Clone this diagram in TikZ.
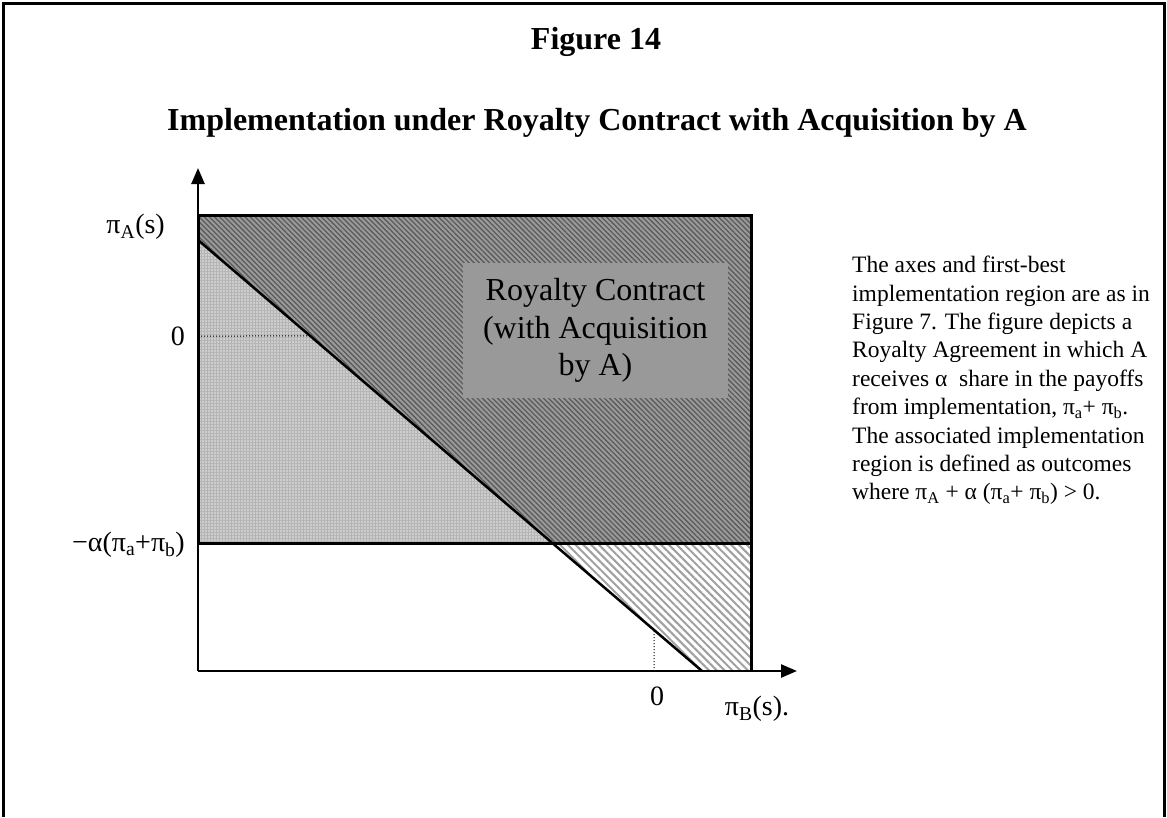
\documentclass[tikz,border=0pt]{standalone}
\usepackage{fontspec}
\setmainfont{Liberation Serif}
\usetikzlibrary{arrows.meta,patterns.meta,calc}
\definecolor{darkfill}{HTML}{9A9A9A}
\definecolor{darkline}{HTML}{5A5A5A}
\definecolor{lightfill}{HTML}{CDCDCD}
\definecolor{lightgrid}{HTML}{B4B4B4}
\definecolor{hatchline}{HTML}{A0A0A0}
\definecolor{boxgray}{HTML}{999999}
\newcommand{\sbs}[1]{\textsubscript{#1}}
\tikzset{
  frameline/.style={line width=3pt},
  axisline/.style={line width=2.5pt,-{Triangle[length=16pt,width=13pt]}},
  outline/.style={line width=3pt},
  diagline/.style={line width=2.5pt},
  zeroline/.style={line width=1pt,dotted},
  lbl/.style={font=\fontsize{28}{32}\selectfont,inner sep=0pt},
  titlefont/.style={font=\bfseries\fontsize{32}{38}\selectfont,inner sep=0pt},
}
\begin{document}
\begin{tikzpicture}[x=1pt,y=-1pt]
\useasboundingbox (0,0) rectangle (1167,817);
% frame
\coordinate (FBL) at (3,817);
\coordinate (FTL) at (3,3);
\coordinate (FTR) at (1164,3);
\coordinate (FBR) at (1164,817);
\draw[frameline] (FBL) -- (FTL) -- (FTR) -- (FBR);
% key points
\coordinate (O) at (198,671);
\coordinate (TL) at (198,215);
\coordinate (TR) at (751,215);
\coordinate (ML) at (198,543);
\coordinate (MR) at (751,543);
\coordinate (BR) at (751,671);
\coordinate (D1) at (198,240);
\coordinate (D2) at (702,671);
\coordinate (DX) at ($(D1)!0.70302!(D2)$);
\coordinate (Z1) at ($(D1)!0.2227!(D2)$);
\coordinate (Z1L) at (198,336);
\coordinate (Z2) at ($(D1)!0.9048!(D2)$);
\coordinate (Z2B) at (654,671);
\coordinate (YT) at (198,168);
\coordinate (XT) at (797,671);
% regions
\fill[darkfill] (TL) -- (TR) -- (MR) -- (DX) -- (D1) -- cycle;
\fill[pattern={Lines[angle=-45,distance=3.6pt,line width=1.3pt]},pattern color=darkline] (TL) -- (TR) -- (MR) -- (DX) -- (D1) -- cycle;
\fill[lightfill] (D1) -- (DX) -- (ML) -- cycle;
\fill[pattern={Hatch[angle=0,distance=3pt,line width=0.6pt]},pattern color=lightgrid] (D1) -- (DX) -- (ML) -- cycle;
\fill[pattern={Lines[angle=-45,distance=5.5pt,line width=2pt]},pattern color=hatchline] (DX) -- (MR) -- (BR) -- (D2) -- cycle;
% zero guides
\draw[zeroline] (Z1L) -- (Z1);
\draw[zeroline] (Z2B) -- (Z2);
% label box
\node[fill=boxgray,minimum width=265pt,minimum height=135pt,inner sep=0pt,align=center,font=\fontsize{32}{37.5}\selectfont] (box) at (595.5,330.5) {Royalty Contract\\(with Acquisition\\by A)};
% outlines
\draw[outline] (ML) -- (TL) -- (TR) -- (BR);
\draw[outline] (ML) -- (MR);
\draw[diagline] (D1) -- (D2);
% axes
\draw[axisline] (O) -- (YT);
\draw[axisline] (O) -- (XT);
% titles
\node[titlefont] (title) at (596,42) {Figure 14};
\node[titlefont] (subtitle) at (597,123) {Implementation under Royalty Contract with Acquisition by A};
% axis labels
\node[lbl,anchor=east] (lpa) at (165,227) {π\sbs{A}(s)};
\node[lbl,anchor=east] (lzero) at (185,336) {0};
\node[lbl,anchor=east] (lalpha) at (185,545) {−α(π\sbs{a}+π\sbs{b})};
\node[lbl] (bzero) at (657,696) {0};
\node[lbl] (lpb) at (757,709) {π\sbs{B}(s).};
% note
\node[anchor=north west,align=left,inner sep=0pt,font=\fontsize{23.5}{28.4}\selectfont] (note) at (852,256) {The axes and first-best\\implementation region are as in\\Figure 7. The figure depicts a\\Royalty Agreement in which A\\receives α~ share in the payoffs\\from implementation, π\sbs{a}+ π\sbs{b}.\\The associated implementation\\region is defined as outcomes\\where π\sbs{A} + α (π\sbs{a}+ π\sbs{b}) > 0.};
\end{tikzpicture}
\end{document}
